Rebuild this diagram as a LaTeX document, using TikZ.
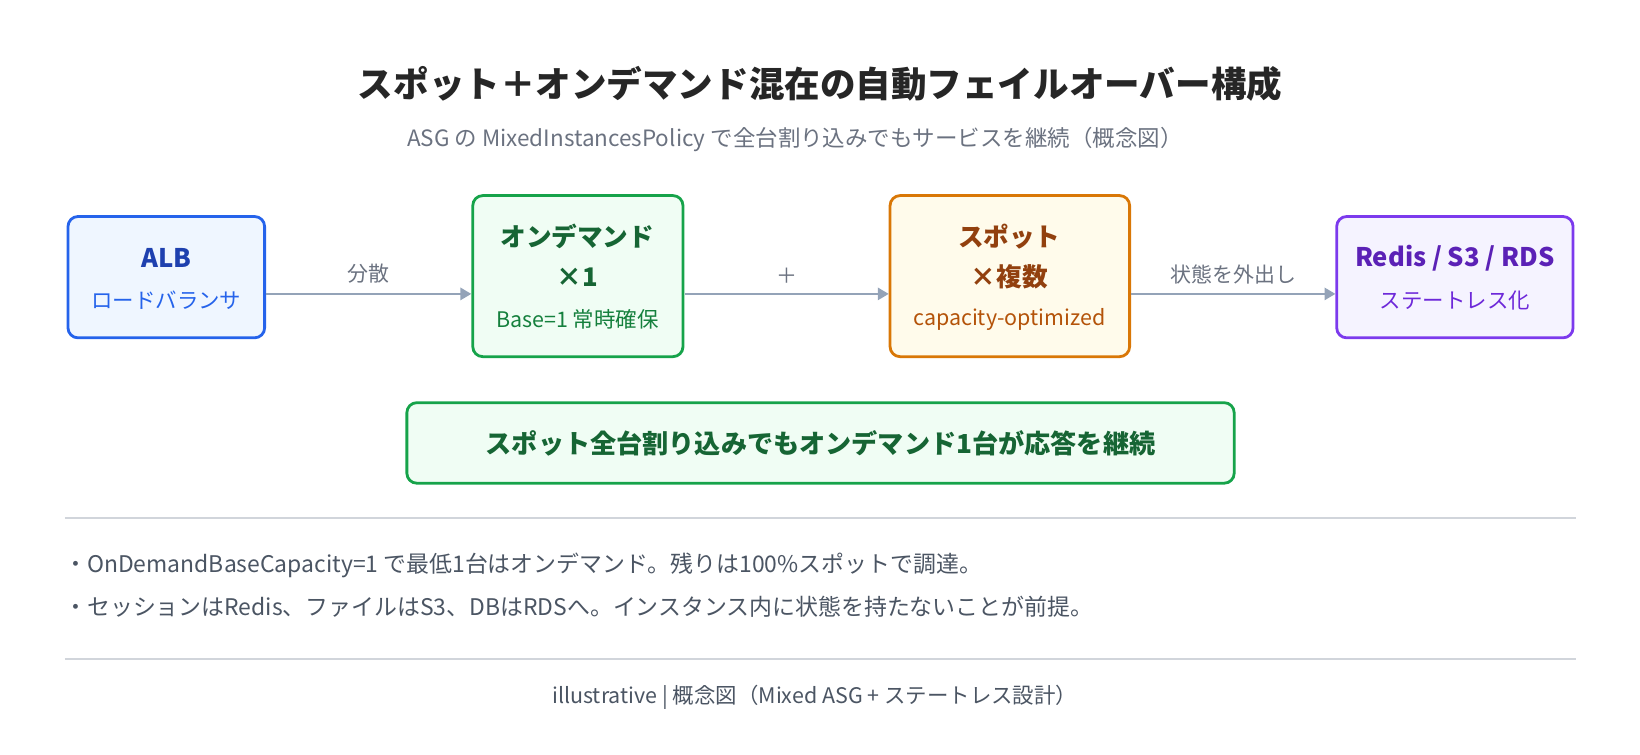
\documentclass[tikz,border=0pt]{standalone}
\usepackage{fontspec}
\setmainfont{Noto Sans CJK JP}
\usetikzlibrary{arrows.meta}
\definecolor{gtxt}{HTML}{6B7280}
\definecolor{arr}{HTML}{94A3B8}
\begin{document}
\begin{tikzpicture}[x=1pt,y=-1pt,scale=1.0459,every node/.style={transform shape},
 box/.style={draw, line width=2.8pt, rounded corners=10pt, inner sep=0pt},
 ar/.style={draw=arr, line width=2.8pt, -{Triangle[length=11pt,width=12pt]}},
 lab/.style={text=gtxt, font=\fontsize{20}{22}\selectfont}]
\useasboundingbox (0,0) rectangle (1568,721);
\node[font=\fontsize{34}{38}\bfseries\selectfont, text=black!85] (t) at (784,80) {スポット＋オンデマンド混在の自動フェイルオーバー構成};
\node[text=gtxt, font=\fontsize{21.5}{24}\selectfont] (st) at (760,133) {ASG の MixedInstancesPolicy で全台割り込みでもサービスを継続（概念図）};

\node[box, draw={rgb,255:red,37;green,99;blue,235}, fill={rgb,255:red,239;green,246;blue,255}, minimum width=188pt, minimum height=116pt] (alb) at (159,265) {};
\node[box, draw={rgb,255:red,22;green,163;blue,74}, fill={rgb,255:red,240;green,253;blue,244}, minimum width=201pt, minimum height=154pt] (od) at (552.5,264) {};
\node[box, draw={rgb,255:red,217;green,119;blue,6}, fill={rgb,255:red,255;green,251;blue,235}, minimum width=229pt, minimum height=154pt] (sp) at (965.5,264) {};
\node[box, draw={rgb,255:red,124;green,58;blue,237}, fill={rgb,255:red,245;green,243;blue,255}, minimum width=226pt, minimum height=116pt] (rd) at (1391,265) {};

\node[font=\fontsize{24.5}{28}\bfseries\selectfont, text={rgb,255:red,30;green,64;blue,175}] (a1) at (159,247) {ALB};
\node[font=\fontsize{20.5}{23}\selectfont, text={rgb,255:red,37;green,99;blue,235}] (a2) at (159,287) {ロードバランサ};
\node[font=\fontsize{24.5}{28}\bfseries\selectfont, text={rgb,255:red,22;green,101;blue,52}] (o1) at (552,226) {オンデマンド};
\node[font=\fontsize{24.5}{28}\bfseries\selectfont, text={rgb,255:red,22;green,101;blue,52}] (o2) at (552,265) {×1};
\node[font=\fontsize{20.5}{23}\selectfont, text={rgb,255:red,21;green,128;blue,61}] (o3) at (552,305) {Base=1 常時確保};
\node[font=\fontsize{24.5}{28}\bfseries\selectfont, text={rgb,255:red,146;green,64;blue,14}] (s1) at (965,226) {スポット};
\node[font=\fontsize{24.5}{28}\bfseries\selectfont, text={rgb,255:red,146;green,64;blue,14}] (s2) at (965,265) {×複数};
\node[font=\fontsize{20.5}{23}\selectfont, text={rgb,255:red,180;green,83;blue,9}] (s3) at (965,305) {capacity-optimized};
\node[font=\fontsize{24.5}{28}\bfseries\selectfont, text={rgb,255:red,91;green,33;blue,182}] (r1) at (1391,247) {Redis / S3 / RDS};
\node[font=\fontsize{20.5}{23}\selectfont, text={rgb,255:red,109;green,40;blue,217}] (r2) at (1391,287) {ステートレス化};

\draw[ar] (alb.east |- 0,281) -- (od.west |- 0,281) node[lab, midway, above=5pt] {分散};
\draw[ar] (od.east |- 0,281) -- (sp.west |- 0,281) node[lab, midway, above=5pt] {＋};
\draw[ar] (sp.east |- 0,281) -- (rd.west |- 0,281) node[lab, midway, above=5pt] {状態を外出し};

\node[box, draw={rgb,255:red,22;green,163;blue,74}, fill={rgb,255:red,240;green,253;blue,244}, minimum width=791pt, minimum height=77pt, font=\fontsize{25}{28}\bfseries\selectfont, text={rgb,255:red,22;green,101;blue,52}] (bn) at (784.5,423.5) {スポット全台割り込みでもオンデマンド1台が応答を継続};

\coordinate (l1a) at (62,495); \coordinate (l1b) at (1506,495);
\draw[draw={rgb,255:red,209;green,213;blue,219}, line width=1.4pt] (l1a) -- (l1b);
\node[anchor=west, text={rgb,255:red,75;green,85;blue,99}, font=\fontsize{21.9}{24}\selectfont] (b1) at (58,541) {・OnDemandBaseCapacity=1 で最低1台はオンデマンド。残りは100\%スポットで調達。};
\node[anchor=west, text={rgb,255:red,75;green,85;blue,99}, font=\fontsize{21.9}{24}\selectfont] (b2) at (58,580) {・セッションはRedis、ファイルはS3、DBはRDSへ。インスタンス内に状態を持たないことが前提。};
\coordinate (l2a) at (62,630); \coordinate (l2b) at (1506,630);
\draw[draw={rgb,255:red,209;green,213;blue,219}, line width=1.4pt] (l2a) -- (l2b);
\node[text={rgb,255:red,75;green,85;blue,99}, font=\fontsize{20.5}{23}\selectfont] (ft) at (779,667) {illustrative | 概念図（Mixed ASG + ステートレス設計）};
\end{tikzpicture}
\end{document}
